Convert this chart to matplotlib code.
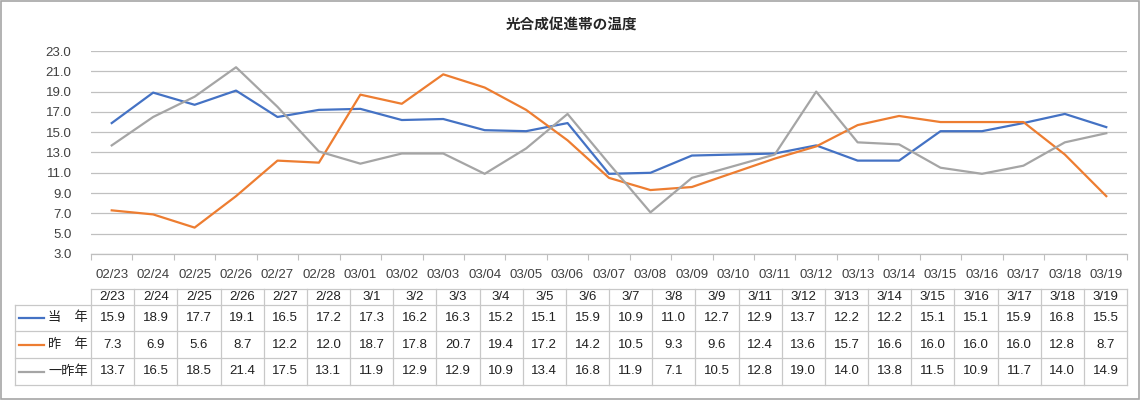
import matplotlib
matplotlib.use("Agg")
import matplotlib.pyplot as plt
from matplotlib.patches import Rectangle
import numpy as np

plt.rcParams['font.family'] = ['Liberation Sans', 'Noto Sans CJK JP', 'DejaVu Sans']

title = "光合成促進帯の温度"
axis_dates = ["02/23", "02/24", "02/25", "02/26", "02/27", "02/28", "03/01", "03/02",
              "03/03", "03/04", "03/05", "03/06", "03/07", "03/08", "03/09", "03/10",
              "03/11", "03/12", "03/13", "03/14", "03/15", "03/16", "03/17", "03/18", "03/19"]
table_dates = ["2/23", "2/24", "2/25", "2/26", "2/27", "2/28", "3/1", "3/2", "3/3", "3/4",
               "3/5", "3/6", "3/7", "3/8", "3/9", "3/11", "3/12", "3/13", "3/14", "3/15",
               "3/16", "3/17", "3/18", "3/19"]
series_names = ["当　年", "昨　年", "一昨年"]
this_year = [15.9, 18.9, 17.7, 19.1, 16.5, 17.2, 17.3, 16.2, 16.3, 15.2, 15.1, 15.9,
             10.9, 11.0, 12.7, 12.9, 13.7, 12.2, 12.2, 15.1, 15.1, 15.9, 16.8, 15.5]
last_year = [7.3, 6.9, 5.6, 8.7, 12.2, 12.0, 18.7, 17.8, 20.7, 19.4, 17.2, 14.2,
             10.5, 9.3, 9.6, 12.4, 13.6, 15.7, 16.6, 16.0, 16.0, 16.0, 12.8, 8.7]
two_years_ago = [13.7, 16.5, 18.5, 21.4, 17.5, 13.1, 11.9, 12.9, 12.9, 10.9, 13.4, 16.8,
                 11.9, 7.1, 10.5, 12.8, 19.0, 14.0, 13.8, 11.5, 10.9, 11.7, 14.0, 14.9]
y_ticks = [3.0, 5.0, 7.0, 9.0, 11.0, 13.0, 15.0, 17.0, 19.0, 21.0, 23.0]
colors = ["#4472C4", "#ED7D31", "#A5A5A5"]
series = [this_year, last_year, two_years_ago]

W, H = 1141, 400
fig = plt.figure(figsize=(W / 100, H / 100), dpi=100)


def to_axis(d):
    m, dd = d.split('/')
    return f"{int(m):02d}/{int(dd):02d}"


xpos = [axis_dates.index(to_axis(d)) for d in table_dates]

# plot area (pixel geometry)
L, R, T, B = 91, 1127, 51, 254
ax = fig.add_axes([L / W, (H - B) / H, (R - L) / W, (B - T) / H])
for vals, c in zip(series, colors):
    ax.plot(xpos, vals, color=c, lw=1.6, solid_joinstyle='round')
ax.set_xlim(-0.5, len(axis_dates) - 0.5)
ax.set_ylim(y_ticks[0], y_ticks[-1])
ax.set_yticks(y_ticks)
ax.set_yticklabels([f"{v:.1f}" for v in y_ticks], fontsize=9.5, color="#404040")
ax.set_xticks(range(len(axis_dates)))
ax.set_xticklabels(axis_dates, fontsize=9.5, color="#404040")
ax.set_xticks(np.arange(-0.5, len(axis_dates), 1.0), minor=True)
ax.tick_params(axis='x', which='major', length=0, pad=11)
ax.tick_params(axis='x', which='minor', length=4, color="#BFBFBF", width=0.8)
ax.tick_params(axis='y', length=0, pad=14)
ax.yaxis.grid(True, color="#C0C0C0", lw=0.9)
ax.set_axisbelow(True)
for s in ['top', 'left', 'right']:
    ax.spines[s].set_visible(False)
ax.spines['bottom'].set_color("#BFBFBF")
ax.spines['bottom'].set_linewidth(0.9)

# overlay for table, title and border (pixel coordinates)
ov = fig.add_axes([0, 0, 1, 1], zorder=-1)
ov.set_xlim(0, W)
ov.set_ylim(H, 0)
ov.axis('off')
ov.add_patch(Rectangle((0.5, 0.5), W - 3, H - 1.5, fill=False, edgecolor="#A6A6A6", lw=1.2))
ov.text(571, 24, title, ha='center', va='center', fontsize=10.5, fontweight='bold',
        family=['Noto Sans CJK JP', 'DejaVu Sans'], color="#262626")

gc = "#C8C8C8"
ncol = len(table_dates)
xe = [L + k * (R - L) / ncol for k in range(ncol + 1)]
ye = [289, 305, 331, 358, 385]
labL = 15
ov.plot([L, R], [ye[0], ye[0]], color=gc, lw=0.9)
for y in ye[1:]:
    ov.plot([labL, R], [y, y], color=gc, lw=0.9)
ov.plot([labL, labL], [ye[1], ye[-1]], color=gc, lw=0.9)
for x in xe:
    ov.plot([x, x], [ye[0], ye[-1]], color=gc, lw=0.9)

for k, d in enumerate(table_dates):
    cx = (xe[k] + xe[k + 1]) / 2
    ov.text(cx, (ye[0] + ye[1]) / 2, d, ha='center', va='center', fontsize=9.5, color="#202020")
    for r, vals in enumerate(series):
        cy = (ye[r + 1] + ye[r + 2]) / 2
        ov.text(cx, cy, f"{vals[k]:.1f}", ha='center', va='center', fontsize=9.5, color="#202020")

for r, (name, c) in enumerate(zip(series_names, colors)):
    cy = (ye[r + 1] + ye[r + 2]) / 2
    ov.plot([19, 44], [cy, cy], color=c, lw=1.6)
    ov.text(48, cy, name, ha='left', va='center', fontsize=9.5, color="#202020",
            family=['Noto Sans CJK JP', 'DejaVu Sans'])

fig.savefig("out.png", dpi=100)
